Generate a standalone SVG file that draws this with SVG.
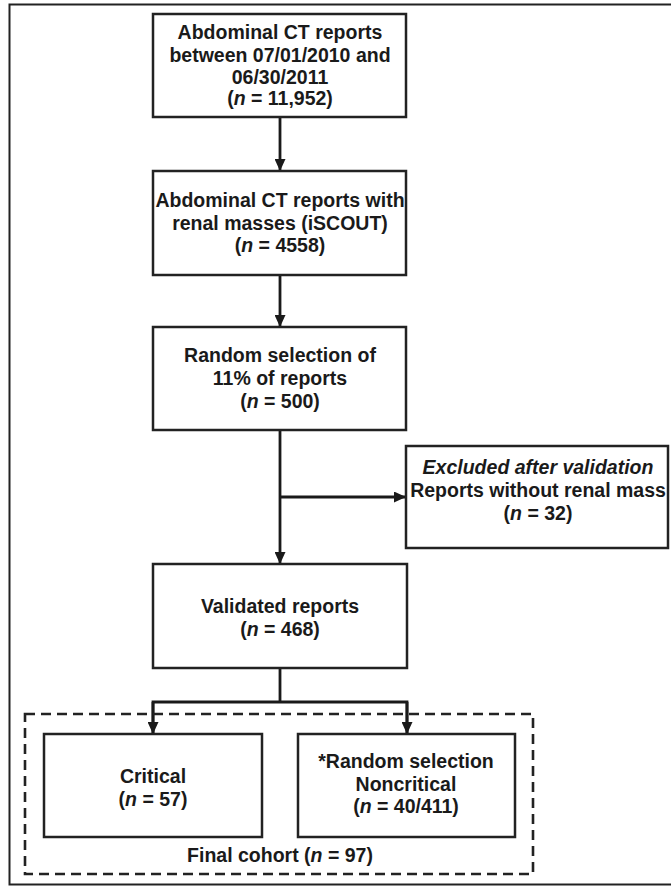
<svg xmlns="http://www.w3.org/2000/svg" width="671" height="886" viewBox="0 0 671 886">
<style>
  .box { fill: #ffffff; stroke: #222222; stroke-width: 2.5; }
  .t { font-family: "Liberation Sans", Arial, Helvetica, sans-serif; font-weight: bold; font-size: 19.5px; fill: #1a1a1a; text-anchor: middle; }
  .i { font-style: italic; }
  .line { fill: none; stroke: #1a1a1a; stroke-width: 2.8; }
  .frame { fill: none; stroke: #222222; stroke-width: 2; }
  .dash { fill: none; stroke: #222222; stroke-width: 2.6; stroke-dasharray: 10 6; }
</style>
<defs>
  <marker id="ah" viewBox="0 0 12 11" refX="12" refY="5.5" markerWidth="12" markerHeight="11" markerUnits="userSpaceOnUse" orient="auto">
    <path d="M0,0 L12,5.5 L0,11 Z" fill="#1a1a1a"/>
  </marker>
</defs>
<rect fill="#ffffff" x="0" y="0" width="671" height="886"/>
<rect class="frame" x="9.5" y="4.5" width="700" height="880"/>

<g id="connectors">
  <line class="line" x1="280" y1="117" x2="280" y2="171" marker-end="url(#ah)"/>
  <line class="line" x1="280" y1="275" x2="280" y2="327" marker-end="url(#ah)"/>
  <line class="line" x1="280" y1="430" x2="280" y2="564" marker-end="url(#ah)"/>
  <line class="line" x1="280" y1="497" x2="406" y2="497" marker-end="url(#ah)"/>
  <polyline class="line" points="280,668 280,702"/>
  <polyline class="line" points="153,734 153,702 407,702 407,734"/>
  <line class="line" x1="153" y1="702" x2="153" y2="734" marker-end="url(#ah)"/>
  <line class="line" x1="407" y1="702" x2="407" y2="734" marker-end="url(#ah)"/>
</g>

<g id="cohort">
  <rect class="dash" x="25" y="714" width="508" height="160"/>
  <text class="t" x="280" y="862">Final cohort (<tspan class="i">n</tspan> = 97)</text>
</g>

<g id="n1">
  <rect class="box" x="153" y="14" width="253" height="103"/>
  <text class="t" x="280" y="39">Abdominal CT reports</text>
  <text class="t" x="280" y="62">between 07/01/2010 and</text>
  <text class="t" x="280" y="84">06/30/2011</text>
  <text class="t" x="280" y="105">(<tspan class="i">n</tspan> = 11,952)</text>
</g>

<g id="n2">
  <rect class="box" x="153" y="171" width="253" height="104"/>
  <text class="t" x="280" y="207">Abdominal CT reports with</text>
  <text class="t" x="280" y="230">renal masses (iSCOUT)</text>
  <text class="t" x="280" y="252">(<tspan class="i">n</tspan> = 4558)</text>
</g>

<g id="n3">
  <rect class="box" x="153" y="327" width="253" height="103"/>
  <text class="t" x="280" y="362">Random selection of</text>
  <text class="t" x="280" y="385">11% of reports</text>
  <text class="t" x="280" y="408">(<tspan class="i">n</tspan> = 500)</text>
</g>

<g id="excluded">
  <rect class="box" x="406" y="446" width="262" height="102"/>
  <text class="t" x="538" y="474"><tspan class="i">Excluded after validation</tspan></text>
  <text class="t" x="538" y="497">Reports without renal mass</text>
  <text class="t" x="538" y="520">(<tspan class="i">n</tspan> = 32)</text>
</g>

<g id="n4">
  <rect class="box" x="153" y="564" width="254" height="104"/>
  <text class="t" x="280" y="613">Validated reports</text>
  <text class="t" x="280" y="636">(<tspan class="i">n</tspan> = 468)</text>
</g>

<g id="critical">
  <rect class="box" x="44" y="734" width="218" height="103"/>
  <text class="t" x="153" y="783">Critical</text>
  <text class="t" x="153" y="806">(<tspan class="i">n</tspan> = 57)</text>
</g>

<g id="noncritical">
  <rect class="box" x="298" y="734" width="217" height="103"/>
  <text class="t" x="406" y="768">*Random selection</text>
  <text class="t" x="406" y="791">Noncritical</text>
  <text class="t" x="406" y="813">(<tspan class="i">n</tspan> = 40/411)</text>
</g>
</svg>
